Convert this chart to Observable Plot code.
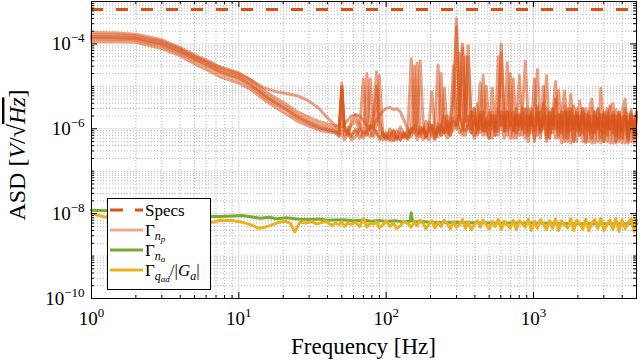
<!DOCTYPE html>
<html><head><meta charset="utf-8">
<script src="https://cdn.jsdelivr.net/npm/d3@7"></script>
<script src="https://cdn.jsdelivr.net/npm/@observablehq/plot@0.6"></script>
<style>
html,body{margin:0;padding:0;background:#fff;}
#wrap{position:relative;width:640px;height:361px;overflow:hidden;}
</style></head>
<body><div id="wrap"></div>
<script>
// ---------- data ----------
const X_DOMAIN = [1, 5000];
const Y_DOMAIN = [1e-10, 1e-3];
const X_LABEL_TICKS = [1, 10, 100, 1000];
const Y_LABEL_TICKS = [1e-10, 1e-8, 1e-6, 1e-4];
const SPEC_LEVEL = [6.5e-4];

const FREQ_LOW = [1, 1.5, 2, 3, 4, 5, 6, 7.5, 10, 12, 15, 18, 21, 25, 30, 35, 40, 45];
const FREQ_HIGH = [
  48, 50, 52, 55, 58, 62, 66, 70, 74, 78,
  82, 86, 90, 95, 100, 106, 112, 118, 125, 132,
  140, 148, 155, 162, 170, 178, 186, 195, 204, 214,
  225, 236, 248, 260, 272, 286, 300, 315, 330, 345,
  360, 378, 396, 415, 435, 455, 477, 500, 524, 550,
  576, 604, 633, 664, 696, 730, 765, 802, 840, 880,
  923, 968, 1015, 1064, 1115, 1170, 1226, 1285, 1347, 1412,
  1480, 1552, 1627, 1705, 1788, 1874, 1965, 2060, 2160, 2264,
  2373, 2488, 2608, 2734, 2866, 3005, 3150, 3302, 3462, 3629,
  3804, 3988, 4181, 4383, 4595, 4817, 5000];

// Gamma_np : several measurements
const NP_A = [1.85e-4, 1.8e-4, 1.7e-4, 1.25e-4, 8.2e-5, 5.5e-5, 4.2e-5, 2.85e-5, 2.1e-5, 1.45e-5, 7.7e-6, 5.2e-6, 3.8e-6, 2.5e-6, 1.85e-6, 1.5e-6, 1.3e-6, 1.17e-6,
  1e-6, 1e-5, 1.1e-6, 8e-7, 7e-7, 9e-7, 6e-7, 8e-7, 7e-7, 1.2e-6,
  1e-6, 1e-5, 9e-7, 7e-7, 6e-7, 8e-7, 5.5e-7, 9e-7, 7e-7, 6e-7,
  8e-7, 4.5e-5, 1.5e-6, 7e-7, 9e-7, 5.5e-7, 8e-7, 1.1e-6, 7e-7, 5.5e-7,
  1e-6, 2e-5, 9e-7, 6e-7, 1.2e-6, 3e-5, 1.5e-6, 8e-7, 1e-6, 2e-6,
  9e-5, 1.5e-6, 6e-7, 1.2e-6, 8e-7, 2.5e-6, 7e-7, 1.5e-6, 6e-7, 2e-6,
  1.2e-6, 1e-4, 1.8e-6, 7e-7, 2.5e-6, 9e-7, 3e-6, 7e-7, 1.8e-6, 6e-7,
  3e-6, 8e-7, 2.2e-6, 2.5e-5, 1.2e-6, 4e-6, 6e-7, 2e-6, 8e-7, 5e-6,
  7e-7, 2.5e-6, 5e-7, 3e-6, 9e-7, 2e-6, 5e-7, 4.5e-6, 8e-7, 2.2e-6,
  5e-7, 3e-6, 8e-7, 1.8e-6, 4.6e-7, 2.5e-6, 7e-7, 2e-6, 4.6e-7, 2.8e-6,
  6e-7, 1.8e-6, 4.6e-7, 2.2e-6, 5e-7, 1.6e-6, 7e-7];
const NP_B = [1.5e-4, 1.48e-4, 1.42e-4, 1.05e-4, 7e-5, 4.7e-5, 3.6e-5, 2.4e-5, 1.75e-5, 1.2e-5, 6.5e-6, 4.4e-6, 3.2e-6, 2.1e-6, 1.55e-6, 1.25e-6, 1.1e-6, 1e-6,
  8e-7, 1.2e-5, 9e-7, 1.1e-6, 6.5e-7, 1e-6, 8e-7, 6e-7, 9e-7, 1e-6,
  2e-6, 2.2e-5, 1.5e-6, 8e-7, 6.5e-7, 5.5e-7, 9e-7, 6.5e-7, 5.5e-7, 8e-7,
  5.5e-7, 1e-6, 8e-7, 1.2e-6, 4e-5, 1.5e-6, 6.5e-7, 9e-7, 1.2e-6, 6.5e-7,
  9e-7, 1.1e-6, 2e-6, 8e-7, 1.5e-6, 5e-6, 3.9e-4, 2e-6, 1.2e-6, 7e-7,
  1.5e-6, 2.5e-6, 7e-7, 3.9e-6, 1e-6, 1.8e-5, 1.2e-6, 6e-7, 2e-6, 9e-7,
  3e-6, 1.5e-6, 6e-7, 3.6e-5, 1.2e-6, 2.5e-6, 6e-7, 2e-6, 1.1e-6, 3e-6,
  5e-7, 2e-6, 9e-7, 3.5e-6, 6e-7, 2.5e-6, 1.8e-5, 8e-7, 2.8e-6, 6e-7,
  2.2e-6, 4.6e-7, 3.5e-6, 8e-7, 2.5e-6, 5e-7, 3e-6, 1e-6, 2e-6, 4.6e-7,
  2.5e-6, 8e-7, 2e-6, 5e-7, 9e-6, 8e-7, 2.5e-6, 4.6e-7, 2e-6, 9e-7,
  2.5e-6, 4.6e-7, 2e-6, 9e-7, 2.8e-6, 4.6e-7, 1.8e-6];
const NP_C = [1.3e-4, 1.28e-4, 1.25e-4, 9e-5, 6e-5, 4e-5, 3e-5, 2e-5, 1.45e-5, 1e-5, 5.5e-6, 3.7e-6, 2.7e-6, 1.75e-6, 1.3e-6, 1.05e-6, 9.5e-7, 8.5e-7,
  7e-7, 8e-6, 1e-6, 7e-7, 1.5e-6, 2.1e-6, 1.3e-6, 8e-7, 2e-5, 9e-7,
  6.5e-7, 9e-7, 5.5e-7, 8e-7, 6.5e-7, 1e-6, 6.5e-7, 5.5e-7, 8e-7, 6.5e-7,
  9e-7, 6.5e-7, 1e-6, 5.5e-7, 1.1e-6, 8e-7, 1.5e-6, 1e-6, 7.5e-6, 9e-7,
  6.5e-7, 1.2e-6, 8e-7, 1.5e-6, 1e-6, 2e-6, 2.5e-4, 1.2e-6, 7e-7, 5e-5,
  1e-6, 1.8e-6, 3e-6, 7e-7, 2e-6, 9e-7, 1.5e-6, 6e-7, 9e-6, 1.2e-6,
  7e-7, 2e-6, 9e-7, 2.5e-6, 6e-7, 1.8e-6, 1.2e-6, 1.8e-5, 7e-7, 2e-6,
  9e-7, 3e-6, 5e-7, 2e-6, 8e-7, 1.5e-6, 3e-6, 6e-7, 2e-6, 1.3e-5,
  9e-7, 2e-6, 6e-7, 2.5e-6, 4.6e-7, 3.5e-6, 9e-7, 2e-6, 5e-7, 3e-6,
  9e-7, 2e-6, 4.6e-7, 3e-6, 9e-7, 2e-6, 5e-7, 3.5e-6, 8e-7, 2e-6,
  5e-7, 2.5e-6, 5e-6, 6e-7, 2e-6, 9e-7, 2.5e-6];
const NP_D = [1.13e-4, 1.12e-4, 1.1e-4, 7.8e-5, 5.2e-5, 3.4e-5, 2.5e-5, 1.66e-5, 1.2e-5, 8.5e-6, 4.7e-6, 3.1e-6, 2.2e-6, 1.5e-6, 1.15e-6, 9.4e-7, 8.5e-7, 8e-7,
  6.5e-7, 9e-7, 5.5e-7, 8e-7, 5.5e-7, 6.5e-7, 1e-6, 8e-7, 9e-7, 1.5e-5,
  1e-6, 8e-7, 6.5e-7, 5.5e-7, 8e-7, 5.5e-7, 5.2e-7, 6.5e-7, 5.5e-7, 8e-7,
  6.5e-7, 1e-6, 3e-5, 1.2e-6, 8e-7, 1e-6, 6.5e-7, 9e-7, 1.2e-6, 8e-7,
  1.1e-6, 7e-7, 9e-6, 1e-6, 7e-7, 1.5e-6, 1.2e-6, 2e-6, 1e-4, 1.5e-6,
  2e-6, 8e-7, 1.5e-6, 1e-6, 2.5e-6, 7e-7, 1.8e-6, 1.2e-6, 2e-6, 7e-7,
  5e-5, 1.2e-6, 2.5e-6, 9e-7, 1.5e-6, 6e-7, 2e-6, 1e-6, 2.5e-6, 3.9e-5,
  1.2e-6, 2e-6, 6e-7, 2.5e-6, 9e-7, 2e-6, 5e-7, 2.5e-6, 1.2e-6, 2e-6,
  6e-7, 2.5e-6, 7.7e-6, 9e-7, 2e-6, 5e-7, 2.5e-6, 9e-7, 3e-6, 5e-7,
  2e-6, 4.6e-7, 2.5e-6, 1e-6, 2e-6, 5e-7, 3e-6, 1e-6, 2.2e-6, 4.6e-7,
  2e-6, 9e-7, 2.5e-6, 4.6e-7, 2e-6, 8e-7, 2.2e-6];
const NP_E = [1.65e-4, 1.62e-4, 1.55e-4, 1.15e-4, 7.6e-5, 5.1e-5, 3.9e-5, 2.7e-5, 1.95e-5, 1.4e-5, 9e-6, 7.5e-6, 6.8e-6, 6e-6, 4.5e-6, 3e-6, 1.8e-6, 1.2e-6,
  1.2e-6, 1.1e-6, 1.3e-6, 1.6e-6, 2e-6, 2.2e-6, 2e-6, 1.6e-6, 1.2e-6, 1e-6,
  1.2e-6, 1.6e-6, 2e-6, 2.6e-6, 3e-6, 3.2e-6, 2.8e-6, 3e-6, 2.5e-6, 1.6e-6,
  1e-6, 8e-7, 1.2e-6, 9e-7, 6.5e-7, 1e-6, 8e-7, 5.5e-7, 9e-7, 1.2e-6,
  3.2e-5, 1e-6, 8e-7, 1.2e-6, 7e-7, 1e-6, 1.5e-6, 6e-5, 1.2e-6, 9e-7,
  1.2e-6, 8e-7, 2e-6, 1e-6, 1.2e-5, 1.5e-6, 9e-7, 2.5e-6, 1e-6, 1.5e-6,
  9e-7, 2.5e-6, 1.2e-6, 1.8e-6, 2e-5, 9e-7, 2e-6, 1.2e-6, 3e-6, 8e-7,
  2e-6, 1.2e-6, 1.5e-5, 7e-7, 2.5e-6, 1e-6, 2e-6, 6e-7, 3e-6, 1e-6,
  2e-6, 1e-6, 2.5e-6, 5e-7, 6.5e-6, 1.2e-6, 2e-6, 7e-7, 2.5e-6, 1e-6,
  2e-6, 6e-7, 2.5e-6, 1e-6, 2.2e-6, 5e-7, 2e-6, 1e-6, 2.5e-6, 5e-7,
  2.2e-6, 6e-7, 2e-6, 5e-7, 2.5e-6, 6e-7, 2e-6];
const NP_F = [1.4e-4, 1.38e-4, 1.33e-4, 9.8e-5, 6.5e-5, 4.4e-5, 3.3e-5, 2.2e-5, 1.6e-5, 1.1e-5, 6e-6, 4e-6, 2.9e-6, 1.9e-6, 1.4e-6, 1.1e-6, 9.5e-7, 8.8e-7,
  8e-7, 9e-6, 7e-7, 9e-7, 1.2e-6, 1.6e-6, 9e-7, 1.5e-5, 8e-7, 6.5e-7,
  9e-7, 1.2e-6, 1.8e-5, 7e-7, 5.5e-7, 7e-7, 9e-7, 6e-7, 1.1e-6, 7e-7,
  6e-7, 9e-7, 1.2e-6, 3.5e-5, 8e-7, 1.1e-6, 6e-7, 1.4e-6, 9e-7, 6e-7,
  1.3e-6, 7e-7, 1.1e-6, 2e-6, 9e-7, 1.8e-6, 1e-6, 2.5e-6, 8e-5, 1.2e-6,
  5e-5, 1e-6, 3e-6, 8e-7, 2.2e-6, 9e-7, 1e-5, 1.2e-6, 2.5e-6, 7e-7,
  1.8e-6, 6e-5, 9e-7, 2.5e-6, 1.2e-6, 1.5e-5, 8e-7, 2.2e-6, 1e-6, 2.8e-6,
  7e-7, 2.5e-6, 1.2e-6, 3e-6, 9e-7, 1e-5, 7e-7, 2.5e-6, 1e-6, 3e-6,
  8e-6, 8e-7, 2.5e-6, 6e-7, 3e-6, 1e-6, 2.2e-6, 7e-7, 3e-6, 1.1e-6,
  2.5e-6, 5e-6, 9e-7, 2.8e-6, 6e-7, 2.2e-6, 1e-6, 3e-6, 4e-6, 7e-7,
  2.5e-6, 1e-6, 3e-6, 6e-7, 2.2e-6, 1.1e-6, 2.5e-6];

// Gamma_na
const FREQ_NA = [1, 1.5, 2, 3, 4, 5, 6.5, 7.5, 9, 10.5, 12, 14, 16, 18, 21, 25, 30, 35, 40, 50,
  60, 70, 80, 90, 100, 115, 130, 145, 148, 151, 160, 180, 200, 300, 500, 1000, 2000, 5000];
const NA = [1.2e-8, 1.15e-8, 1.1e-8, 1.02e-8, 9.6e-9, 9.2e-9, 8.6e-9, 8.6e-9, 8.8e-9, 9e-9, 8.4e-9, 7.8e-9, 8.2e-9, 7.6e-9, 8e-9, 7.5e-9, 7.3e-9, 7.5e-9, 7e-9, 7.2e-9,
  6.8e-9, 7e-9, 6.6e-9, 6.9e-9, 6.5e-9, 6.8e-9, 6.4e-9, 6.6e-9, 1.05e-8, 6.6e-9, 6.4e-9, 6.5e-9, 6.2e-9, 6.2e-9, 6e-9, 6e-9, 5.8e-9, 5.8e-9];

// Gamma_qad / |G_a|
const FREQ_QAD_LOW = [1, 1.2, 1.5, 1.8, 2.2, 2.7, 3.3, 4, 5, 6.5, 7.5, 9, 10.5, 12, 13.6, 15, 16.5, 18.8, 20.7, 22.3,
  24, 26, 28.5, 31, 34, 36.5, 39, 43, 45];
const QAD_LOW = [1e-8, 8.5e-9, 7.8e-9, 7e-9, 6.3e-9, 6e-9, 5.8e-9, 6e-9, 6.2e-9, 6.2e-9, 7e-9, 6.9e-9, 6.3e-9, 5.5e-9, 4.5e-9, 4.8e-9, 5.3e-9, 6.3e-9, 6.6e-9, 6e-9,
  3.7e-9, 6.3e-9, 6e-9, 6.5e-9, 5.7e-9, 6.2e-9, 6.6e-9, 5.2e-9, 6e-9];
const QAD_HIGH = [
  5.5e-9, 6.5e-9, 5e-9, 6e-9, 5.6e-9, 6.2e-9, 5e-9, 7.6e-9, 4.8e-9, 6e-9,
  5.6e-9, 6.4e-9, 4.6e-9, 5.4e-9, 6.8e-9, 5e-9, 6e-9, 4.5e-9, 5.2e-9, 6.6e-9,
  5.8e-9, 4.8e-9, 6.5e-9, 5.2e-9, 7e-9, 6e-9, 4.4e-9, 5.6e-9, 6.8e-9, 4.6e-9,
  6.2e-9, 5e-9, 7e-9, 5.8e-9, 4.4e-9, 6.5e-9, 4.8e-9, 5.6e-9, 7.2e-9, 4.5e-9,
  6.4e-9, 4.2e-9, 5.4e-9, 6.8e-9, 4.8e-9, 7e-9, 5.6e-9, 4.3e-9, 6.5e-9, 5e-9,
  7.2e-9, 4.2e-9, 6.6e-9, 5.4e-9, 4.6e-9, 7e-9, 4.2e-9, 6.8e-9, 5.8e-9, 4.8e-9,
  7.4e-9, 4e-9, 6.5e-9, 4.5e-9, 7.2e-9, 5.6e-9, 4.2e-9, 6.8e-9, 4.5e-9, 7.5e-9,
  4e-9, 6.8e-9, 5.4e-9, 4.6e-9, 7.6e-9, 4e-9, 7e-9, 5.8e-9, 4.3e-9, 7.4e-9,
  3.9e-9, 6.2e-9, 7.2e-9, 4.5e-9, 7.8e-9, 4e-9, 5.6e-9, 7e-9, 4.2e-9, 7.6e-9,
  3.8e-9, 7.2e-9, 4.4e-9, 6e-9, 7.8e-9, 3.8e-9, 7e-9];

const C_ORANGE = "#D95319", C_GREEN = "#77AC30", C_YELLOW = "#EDB120";

// ---------- build ----------
const W = 640, H = 361;
const M = {top: 1, right: 4, bottom: 63, left: 91};
const innerW = W - M.left - M.right, innerH = H - M.top - M.bottom;

const FREQ_NP = FREQ_LOW.concat(FREQ_HIGH);
const npRows = [];
[NP_A, NP_B, NP_C, NP_D, NP_E, NP_F].forEach((arr, k) =>
  arr.forEach((v, i) => npRows.push({f: FREQ_NP[i], v, k})));
const naRows = FREQ_NA.map((f, i) => ({f, v: NA[i]}));
const FREQ_QAD = FREQ_QAD_LOW.concat(FREQ_HIGH);
const QAD = QAD_LOW.concat(QAD_HIGH);
const qadRows = FREQ_QAD.map((f, i) => ({f, v: QAD[i]}));

const isLab = (t, labs) => labs.some(l => Math.abs(Math.log10(t) - Math.log10(l)) < 1e-6);
const xAll = d3.scaleLog().domain(X_DOMAIN).ticks();
const yAll = d3.scaleLog().domain(Y_DOMAIN).ticks();
const xMinor = xAll.filter(t => !isLab(t, X_LABEL_TICKS));
const yMinor = yAll.filter(t => !isLab(t, Y_LABEL_TICKS));
const expFmt = d => "10^" + String(Math.round(Math.log10(d))).replace("-", "\u2212");

const chart = Plot.plot({
  width: W, height: H,
  marginTop: M.top, marginRight: M.right, marginBottom: M.bottom, marginLeft: M.left,
  style: {fontFamily: "'Liberation Serif', serif", fontSize: "19px", background: "#fff", color: "#000", overflow: "visible"},
  x: {type: "log", domain: X_DOMAIN},
  y: {type: "log", domain: Y_DOMAIN},
  marks: [
    Plot.gridX({ticks: xMinor, stroke: "#b8b8b8", strokeOpacity: 1, strokeDasharray: "1,2"}),
    Plot.gridY({ticks: yMinor, stroke: "#b8b8b8", strokeOpacity: 1, strokeDasharray: "1,2"}),
    Plot.gridX({ticks: X_LABEL_TICKS, stroke: "#dcdcdc", strokeOpacity: 1}),
    Plot.gridY({ticks: Y_LABEL_TICKS, stroke: "#dcdcdc", strokeOpacity: 1}),
    Plot.ruleY(SPEC_LEVEL, {stroke: C_ORANGE, strokeWidth: 3, strokeDasharray: "12,13"}),
    Plot.line(npRows, {x: "f", y: "v", z: "k", stroke: C_ORANGE, strokeOpacity: 0.55, strokeWidth: 3, strokeLinejoin: "round"}),
    Plot.line(naRows, {x: "f", y: "v", stroke: C_GREEN, strokeWidth: 3, strokeLinejoin: "round"}),
    Plot.line(qadRows, {x: "f", y: "v", stroke: C_YELLOW, strokeWidth: 3, strokeLinejoin: "round"}),
    Plot.frame({stroke: "#000", strokeWidth: 1}),
    // inward ticks, all four sides
    Plot.tickX(X_LABEL_TICKS, {x: d => d, insetTop: innerH - 6, stroke: "#000"}),
    Plot.tickX(X_LABEL_TICKS, {x: d => d, insetBottom: innerH - 6, stroke: "#000"}),
    Plot.tickX(xMinor, {x: d => d, insetTop: innerH - 3, stroke: "#000"}),
    Plot.tickX(xMinor, {x: d => d, insetBottom: innerH - 3, stroke: "#000"}),
    Plot.tickY(Y_LABEL_TICKS, {y: d => d, insetRight: innerW - 6, stroke: "#000"}),
    Plot.tickY(Y_LABEL_TICKS, {y: d => d, insetLeft: innerW - 6, stroke: "#000"}),
    Plot.tickY(yMinor, {y: d => d, insetRight: innerW - 3, stroke: "#000"}),
    Plot.tickY(yMinor, {y: d => d, insetLeft: innerW - 3, stroke: "#000"}),
    Plot.axisX({ticks: X_LABEL_TICKS, tickSize: 0, tickPadding: 13, tickFormat: expFmt, fontSize: 19, label: null}),
    Plot.axisY({ticks: Y_LABEL_TICKS, tickSize: 0, tickPadding: 7, tickFormat: expFmt, fontSize: 19, label: null})
  ]
});

// superscript exponents
const NS = "http://www.w3.org/2000/svg";
chart.querySelectorAll("text").forEach(t => {
  const m = /^10\^(.+)$/.exec(t.textContent);
  if (!m) return;
  t.textContent = "";
  const b = document.createElementNS(NS, "tspan"); b.textContent = "10";
  const e = document.createElementNS(NS, "tspan"); e.textContent = m[1];
  e.setAttribute("dy", "-8"); e.setAttribute("font-size", "13");
  t.append(b, e);
});

const svg = d3.select(chart);
svg.append("text")
  .attr("x", M.left + innerW / 2).attr("y", 354)
  .attr("text-anchor", "middle").attr("font-size", 23).attr("fill", "#000")
  .text("Frequency [Hz]");
const yl = svg.append("text")
  .attr("transform", "translate(25,155) rotate(-90)")
  .attr("text-anchor", "middle").attr("font-size", 24).attr("fill", "#000");
yl.append("tspan").text("ASD [");
yl.append("tspan").attr("font-style", "italic").text("V");
yl.append("tspan").text("/\u221A");
yl.append("tspan").attr("font-style", "italic").style("text-decoration", "overline").text("Hz");
yl.append("tspan").text("]");

const wrap = document.getElementById("wrap");
wrap.appendChild(chart);

// legend
const lg = document.createElement("div");
lg.style.cssText = "position:absolute;left:107px;top:198px;width:104px;height:92px;";
lg.innerHTML = `
<svg width="104" height="92" font-family="'Liberation Serif', serif" font-size="17" fill="#000">
  <rect x="0.5" y="0.5" width="103" height="91" fill="#fff" stroke="#000" stroke-width="1"/>
  <line x1="3" x2="36" y1="12" y2="12" stroke="${C_ORANGE}" stroke-width="3" stroke-dasharray="13,12"/>
  <text x="38" y="18">Specs</text>
  <line x1="3" x2="36" y1="32" y2="32" stroke="${C_ORANGE}" stroke-opacity="0.5" stroke-width="3"/>
  <text x="38" y="38">\u0393<tspan font-style="italic" font-size="12" dy="4">n</tspan><tspan font-style="italic" font-size="9" dy="2">p</tspan></text>
  <line x1="3" x2="36" y1="52" y2="52" stroke="${C_GREEN}" stroke-width="3"/>
  <text x="38" y="58">\u0393<tspan font-style="italic" font-size="12" dy="4">n</tspan><tspan font-style="italic" font-size="9" dy="2">a</tspan></text>
  <line x1="3" x2="36" y1="72" y2="72" stroke="${C_YELLOW}" stroke-width="3"/>
  <text x="38" y="78">\u0393<tspan font-style="italic" font-size="12" dy="4">q</tspan><tspan font-style="italic" font-size="9" dy="2">ad</tspan><tspan dy="-6">/|</tspan><tspan font-style="italic">G</tspan><tspan font-style="italic" font-size="12" dy="4">a</tspan><tspan dy="-4">|</tspan></text>
</svg>`;
wrap.appendChild(lg);
</script></body></html>
